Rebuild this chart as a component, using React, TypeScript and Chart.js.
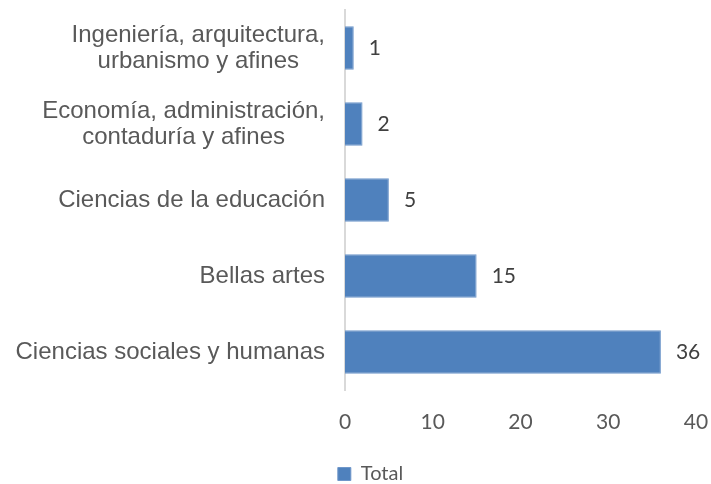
import { useEffect, useRef } from "react";
import { Chart, registerables } from "chart.js";

Chart.register(...registerables);

const categories: string[][] = [
  ["Ingeniería, arquitectura,", "urbanismo y afines"],
  ["Economía, administración,", "contaduría y afines"],
  ["Ciencias de la educación"],
  ["Bellas artes"],
  ["Ciencias sociales y humanas"],
];
const values = [1, 2, 5, 15, 36];
const xTicks = [0, 10, 20, 30, 40];
const seriesName = "Total";

const TEXT = "#595959";
const VALUE_TEXT = "#404040";

const categoryLabels = {
  id: "categoryLabels",
  afterDraw(chart: any) {
    const { ctx, chartArea } = chart;
    const y = chart.scales.y;
    ctx.save();
    ctx.font = '24px "Liberation Sans", Arial, sans-serif';
    ctx.fillStyle = TEXT;
    ctx.textBaseline = "middle";
    ctx.textAlign = "center";
    const lineH = 26;
    categories.forEach((lines, i) => {
      const cy = y.getPixelForValue(i);
      const maxW = Math.max(...lines.map((l) => ctx.measureText(l).width));
      const cx = chartArea.left - 20 - maxW / 2;
      lines.forEach((l, j) => {
        ctx.fillText(l, cx, cy + (j - (lines.length - 1) / 2) * lineH);
      });
    });
    ctx.restore();
  },
};

const valueLabels = {
  id: "valueLabels",
  afterDatasetsDraw(chart: any) {
    const { ctx } = chart;
    const meta = chart.getDatasetMeta(0);
    ctx.save();
    ctx.font = '21px Lato, "Open Sans", sans-serif';
    ctx.fillStyle = VALUE_TEXT;
    ctx.textBaseline = "middle";
    ctx.textAlign = "left";
    meta.data.forEach((el: any, i: number) => {
      ctx.fillText(String(values[i]), el.x + 15, el.y);
    });
    ctx.restore();
  },
};

export default function App() {
  const ref = useRef<HTMLCanvasElement | null>(null);
  useEffect(() => {
    if (!ref.current) return;
    const chart = new Chart(ref.current, {
      type: "bar",
      data: {
        labels: categories.map((c) => c.join(" ")),
        datasets: [
          {
            label: seriesName,
            data: values,
            backgroundColor: "#4F81BD",
            borderColor: "#6F97CA",
            borderWidth: 1,
            categoryPercentage: 1,
            barPercentage: 0.57,
          },
        ],
      },
      options: {
        indexAxis: "y",
        animation: false,
        responsive: true,
        maintainAspectRatio: false,
        layout: { padding: { top: 10, right: 15, left: 45, bottom: 0 } },
        scales: {
          x: {
            type: "linear",
            min: xTicks[0],
            max: xTicks[xTicks.length - 1],
            afterBuildTicks(scale: any) {
              scale.ticks = xTicks.map((v) => ({ value: v }));
            },
            afterFit(scale: any) {
              scale.height = 64;
              scale.paddingRight = 0;
              scale.paddingLeft = 0;
            },
            ticks: {
              color: TEXT,
              font: { family: 'Lato, "Open Sans", sans-serif', size: 21 },
              padding: 20,
            },
            grid: { display: false, drawTicks: false },
            border: { display: false },
          },
          y: {
            type: "category",
            afterFit(scale: any) {
              scale.width = 300;
            },
            ticks: { display: false },
            grid: { display: false, drawTicks: false },
            border: { display: true, color: "#D9D9D9", width: 2 },
          },
        },
        plugins: {
          tooltip: { enabled: false },
          legend: {
            display: true,
            position: "bottom",
            maxHeight: 30,
            labels: {
              color: TEXT,
              font: { family: 'Lato, "Open Sans", sans-serif', size: 20 },
              boxWidth: 13,
              boxHeight: 13,
              padding: 10,
            },
          },
        },
      },
      plugins: [categoryLabels, valueLabels],
    });
    return () => chart.destroy();
  }, []);
  return (
    <div style={{ position: "fixed", left: 0, top: 0, width: 711, height: 484, background: "#fff" }}>
      <canvas ref={ref} />
    </div>
  );
}
